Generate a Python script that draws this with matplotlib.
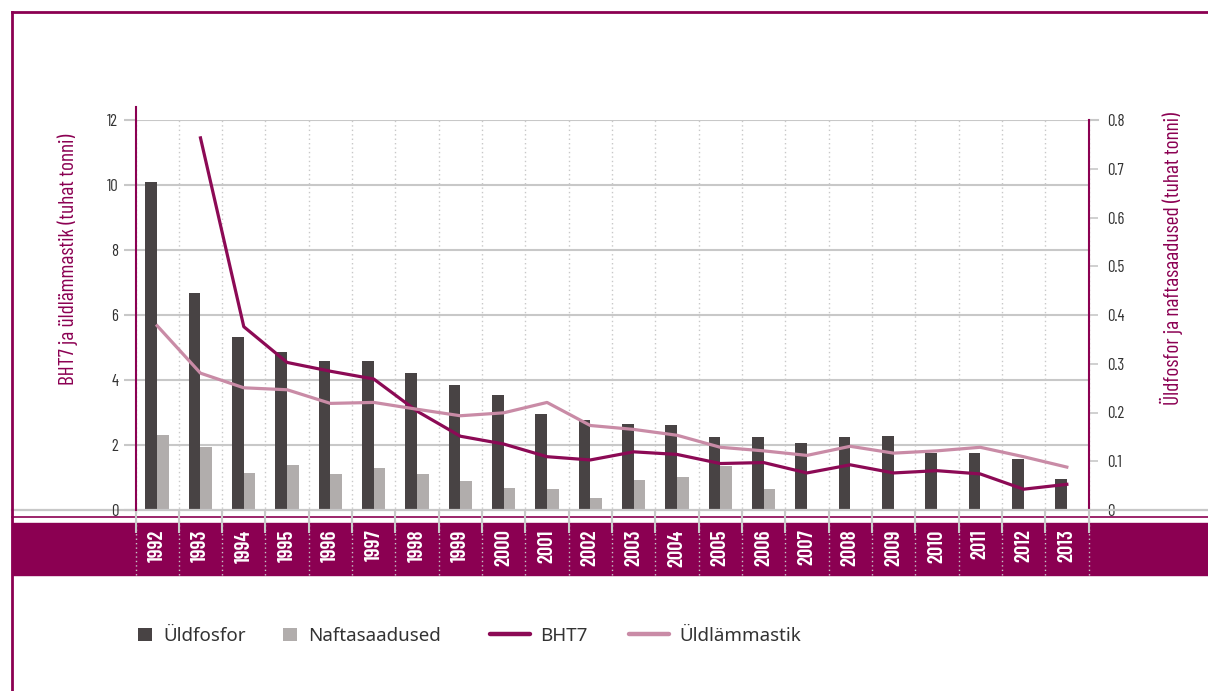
import numpy as np
import matplotlib
matplotlib.use('Agg')
import matplotlib.pyplot as plt
import matplotlib.transforms as mtransforms
from matplotlib.lines import Line2D
from matplotlib.patches import Patch, Rectangle

# Data (tuhat tonni)
years = ['1992', '1993', '1994', '1995', '1996', '1997', '1998', '1999', '2000', '2001', '2002',
         '2003', '2004', '2005', '2006', '2007', '2008', '2009', '2010', '2011', '2012', '2013']
# right axis
uldfosfor = [0.673, 0.445, 0.354, 0.325, 0.305, 0.305, 0.281, 0.257, 0.235, 0.197, 0.185,
             0.177, 0.175, 0.149, 0.149, 0.137, 0.149, 0.151, 0.117, 0.117, 0.105, 0.064]
naftasaadused = [0.153, 0.129, 0.076, 0.093, 0.074, 0.086, 0.074, 0.060, 0.045, 0.043, 0.024,
                 0.062, 0.067, 0.090, 0.043, np.nan, np.nan, np.nan, np.nan, np.nan, np.nan, np.nan]
# left axis
bht7 = [np.nan, 11.45, 5.64, 4.54, 4.27, 4.03, 3.04, 2.27, 2.03, 1.64, 1.54,
        1.79, 1.71, 1.43, 1.46, 1.14, 1.39, 1.14, 1.21, 1.11, 0.64, 0.79]
uldlammastik = [5.67, 4.21, 3.76, 3.70, 3.28, 3.31, 3.10, 2.90, 2.99, 3.31, 2.60,
                2.48, 2.30, 1.93, 1.82, 1.68, 1.96, 1.75, 1.82, 1.93, 1.64, 1.32]

left_ticks = [0, 2, 4, 6, 8, 10, 12]
right_ticks = [0, 0.1, 0.2, 0.3, 0.4, 0.5, 0.6, 0.7, 0.8]

PURPLE = '#8b0052'
LINE_PURPLE = '#8c0a55'
PINK = '#c98ba6'
DARK = '#484344'
LIGHT = '#b1adac'
GRID = '#c8c8c8'
TEXT = '#333333'

plt.rcParams['font.family'] = ['Barlow Condensed', 'DejaVu Sans']

W, H = 1208, 691
fig = plt.figure(figsize=(W / 100, H / 100), dpi=100)


def fx(px):
    return px / W


def fy(py):
    return 1 - py / H


ax = fig.add_axes([fx(135.5), fy(510), (1088.5 - 135.5) / W, (510 - 120) / H])
ax2 = ax.twinx()
ax.set_zorder(2)
ax.patch.set_visible(False)
ax2.patch.set_visible(False)

x = np.arange(len(years))
bounds = np.arange(len(years) + 1) - 0.5
w = 0.27

# bars on the right axis, lines on the left axis
ax2.bar(x - 0.135, uldfosfor, w, color=DARK, zorder=2)
ax2.bar(x + 0.135, naftasaadused, w, color=LIGHT, zorder=2)
ax.plot(x, bht7, color=LINE_PURPLE, lw=2.3, zorder=3)
ax.plot(x, uldlammastik, color=PINK, lw=2.3, zorder=3)

ax.set_xlim(-0.5, len(years) - 0.5)
ax.set_ylim(0, 12)
ax2.set_ylim(0, 0.8)

# horizontal grid at the left ticks, kept under the bars
grid_tr = mtransforms.blended_transform_factory(ax2.transAxes, ax.transData)
for v in left_ticks[1:]:
    ax2.plot([0, 1], [v, v], transform=grid_tr, color=GRID, lw=1.5, zorder=0.5)
ax2.plot([1, 1 + 9 / 953], [12, 12], transform=grid_tr, color=GRID, lw=1.5,
         clip_on=False, zorder=0.5)

# dotted year separators, running down into the band
ax2.vlines(bounds, -0.167, 1, transform=ax2.get_xaxis_transform(), colors=GRID,
           linestyles=(0, (1, 2.2)), lw=1, clip_on=False, zorder=0.5)

ax.set_xticks(x, labels=years)
ax.set_xticks(bounds, minor=True)
ax.tick_params(axis='x', which='major', length=0, pad=14, labelrotation=90,
               labelcolor='white', labelsize=15)
ax.tick_params(axis='x', which='minor', length=16.5, width=1.5, color=GRID)
for lbl in ax.get_xticklabels():
    lbl.set_fontweight('semibold')

ax.set_yticks(left_ticks, labels=[str(v) for v in left_ticks])
ax.tick_params(axis='y', length=9, width=1.5, color=GRID, pad=3.5,
               labelsize=12, labelcolor=TEXT)
ax2.set_yticks(right_ticks, labels=[f'{v:g}' for v in right_ticks])
ax2.tick_params(axis='y', length=6.5, width=1.2, color=GRID, pad=7,
                labelsize=12, labelcolor=TEXT)

for s in ['top', 'right', 'bottom']:
    ax.spines[s].set_visible(False)
for s in ['top', 'left', 'bottom']:
    ax2.spines[s].set_visible(False)
ax.spines['left'].set_color(PURPLE)
ax.spines['left'].set_linewidth(1.5)
ax.spines['left'].set_bounds(0, 12.4)
ax2.spines['right'].set_color(PURPLE)
ax2.spines['right'].set_linewidth(1.5)

fig.text(fx(68), fy(259), 'BHT7 ja üldlämmastik (tuhat tonni)', rotation=90,
         ha='center', va='center', color=PURPLE, fontsize=15.5)
fig.text(fx(1171), fy(259), 'Üldfosfor ja naftasaadused (tuhat tonni)', rotation=90,
         ha='center', va='center', color=PURPLE, fontsize=15.5)

# frame, baseline and the year band
fig.add_artist(Rectangle((fx(12), fy(575)), 1 - fx(12), (575 - 523) / H,
                         transform=fig.transFigure, color=PURPLE, zorder=-1))
fig.add_artist(Line2D([fx(12), 1], [fy(510), fy(510)], color=GRID, lw=1.6, zorder=1))
fig.add_artist(Line2D([fx(12), 1], [fy(517), fy(517)], color=PURPLE, lw=1.2, zorder=1))
fig.add_artist(Line2D([fx(12), 1], [fy(12), fy(12)], color=PURPLE, lw=2, zorder=1))
fig.add_artist(Line2D([fx(12), fx(12)], [fy(12), 0], color=PURPLE, lw=2, zorder=1))

legend_font = {'family': ['Noto Sans', 'DejaVu Sans'], 'size': 13.5}
bar_handles = [Patch(facecolor=DARK, label='Üldfosfor'),
               Patch(facecolor=LIGHT, label='Naftasaadused')]
line_handles = [Line2D([], [], color=LINE_PURPLE, lw=3.2, solid_capstyle='round', label='BHT7'),
                Line2D([], [], color=PINK, lw=3.2, solid_capstyle='round', label='Üldlämmastik')]
fig.legend(handles=bar_handles, loc='center left', bbox_to_anchor=(fx(138), fy(636)),
           ncol=2, frameon=False, borderpad=0, borderaxespad=0, handlelength=0.75,
           handleheight=0.75, handletextpad=0.6, columnspacing=1.95, prop=legend_font,
           labelcolor=TEXT)
fig.legend(handles=line_handles, loc='center left', bbox_to_anchor=(fx(490), fy(636)),
           ncol=2, frameon=False, borderpad=0, borderaxespad=0, handlelength=2.13,
           handletextpad=0.55, columnspacing=2.2, prop=legend_font, labelcolor=TEXT)

fig.savefig('out.png', dpi=100)
